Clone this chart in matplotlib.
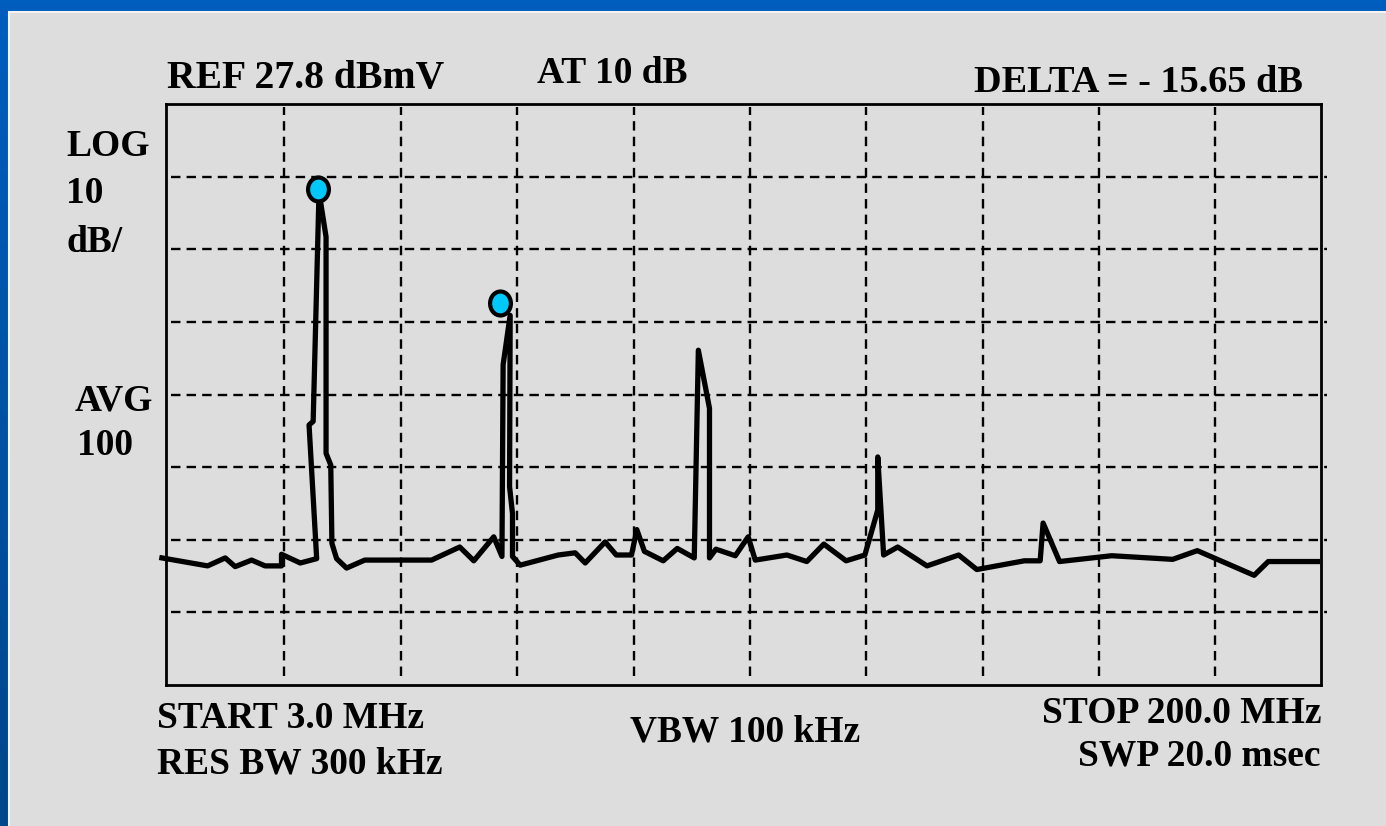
import matplotlib
matplotlib.use('Agg')
import matplotlib.pyplot as plt
import numpy as np
from matplotlib.colors import LinearSegmentedColormap
from matplotlib.markers import MarkerStyle
from matplotlib.patches import Rectangle
from matplotlib.transforms import Affine2D

# spectrum analyser trace (MHz vs dBmV)
freq_mhz = [2.3, 10.1, 13.1, 14.8, 17.6, 19.9, 22.7, 22.7, 25.9, 28.7,
            27.4, 28.1, 29.1, 30.3, 30.3, 31.1, 31.3, 32.1, 33.8, 36.9,
            48.3, 53.1, 55.5, 58.9, 60.3, 60.5, 61.7, 61.6, 62.1, 62.1,
            63.4, 69.9, 72.8, 74.5, 77.9, 79.8, 82.4, 83.3, 84.6, 87.8,
            90.2, 93.1, 93.8, 95.7, 95.7, 96.8, 100.1, 102.3, 103.5, 108.9,
            112.3, 115.2, 119.0, 122.2, 124.4, 124.4, 125.4, 127.8, 132.8, 138.2,
            141.3, 149.4, 152.1, 152.6, 155.4, 164.3, 174.7, 178.9, 188.6, 191.0,
            199.4]
level_dbmv = [-34.7, -35.8, -34.7, -35.9, -35.0, -35.8, -35.8, -34.2, -35.4, -34.8,
              -16.4, -15.9, 15.7, 9.5, -20.3, -21.9, -32.7, -34.8, -36.1, -35.0,
              -35.0, -33.2, -35.1, -31.8, -34.5, -8.1, -1.3, -24.9, -28.6, -34.5,
              -35.7, -34.3, -34.0, -35.4, -32.5, -34.3, -34.3, -30.8, -33.8, -35.1,
              -33.4, -34.7, -6.1, -14.1, -34.7, -33.5, -34.4, -31.8, -35.0, -34.3,
              -35.2, -32.8, -35.1, -34.3, -28.1, -20.8, -34.3, -33.2, -35.8, -34.3,
              -36.3, -35.1, -35.1, -29.9, -35.2, -34.4, -34.9, -33.7, -37.1, -35.2,
              -35.2]

# delta markers
marker_freq = [29.0, 60.0]
marker_level = [16.1, 0.45]

ref_level = 27.8
db_per_div = 10
n_div = 8
start_mhz = 3.0
stop_mhz = 200.0

W, H = 1386, 826
fig = plt.figure(figsize=(W / 100, H / 100), dpi=100)

# slide frame: blue border with grey panel
bg = fig.add_axes([0, 0, 1, 1])
bg.set_xlim(0, W)
bg.set_ylim(H, 0)
bg.axis('off')
frame_cmap = LinearSegmentedColormap.from_list('frame', ['#005ebe', '#00468a'])
bg.imshow(np.linspace(0, 1, 256)[:, None], cmap=frame_cmap,
          extent=(0, W, H, 0), aspect='auto')
bg.add_patch(Rectangle((8.5, 11.5), W, H, facecolor='#dddddd',
                       edgecolor='#f4f4f4', lw=1.5))

# screen area
ax = fig.add_axes([166 / W, 1 - 685 / H, (1321 - 166) / W, (685 - 104) / H])
ax.set_facecolor('none')
ax.set_xlim(start_mhz, stop_mhz)
ax.set_ylim(ref_level - n_div * db_per_div, ref_level)
ax.set_xticks([])
ax.set_yticks([])
for sp in ax.spines.values():
    sp.set_linewidth(2)
    sp.set_color('black')

grid_kw = dict(color='black', lw=1.7, dashes=(4, 2.6))
for k in range(1, n_div):
    ax.axhline(ref_level - k * db_per_div, xmin=0.004, xmax=1.005,
               clip_on=False, **grid_kw)
for k in range(9):
    ax.axvline(23.2 + 19.85 * k, ymin=0.015, ymax=0.995, **grid_kw)

ax.plot(freq_mhz, level_dbmv, color='black', lw=3.8, clip_on=False,
        solid_joinstyle='round', zorder=3)

oval = MarkerStyle('o', transform=Affine2D().scale(1, 1.15))
ax.plot(marker_freq, marker_level, linestyle='none', marker=oval,
        markersize=15, markerfacecolor='#00c8f8', markeredgecolor='black',
        markeredgewidth=3, clip_on=False, zorder=4)

# annotations
font = dict(family='Liberation Serif', fontweight='bold', fontsize=27,
            color='black', va='baseline')


def label(x, y, s, ha='left', size=27):
    fig.text(x / W, 1 - y / H, s, ha=ha, **{**font, 'fontsize': size})


label(167, 88, 'REF 27.8 dBmV', size=28.5)
label(537, 83, 'AT 10 dB')
label(1303, 92, 'DELTA = - 15.65 dB', ha='right', size=27.5)
label(66, 156, 'LOG')
label(66, 203, '10')
label(66, 252, 'dB/')
label(75, 410, 'AVG')
label(77, 455, '100')
label(157, 728, 'START 3.0 MHz')
label(157, 774, 'RES BW 300 kHz')
label(630, 742, 'VBW 100 kHz')
label(1321, 723, 'STOP 200.0 MHz', ha='right')
label(1321, 765, 'SWP 20.0 msec', ha='right')

fig.savefig('out.png', dpi=100)
